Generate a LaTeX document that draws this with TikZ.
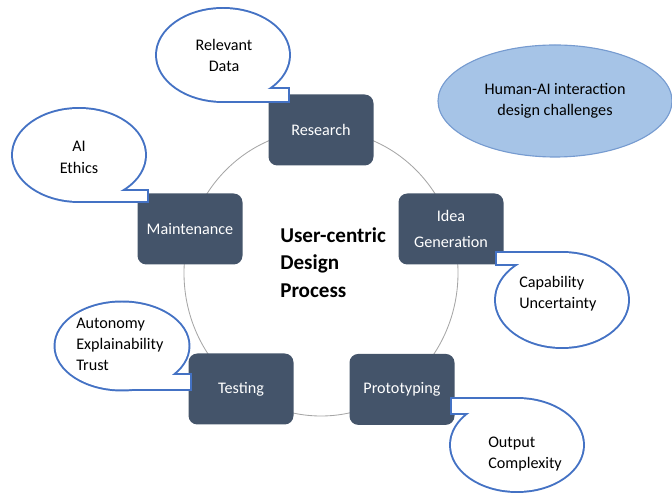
\documentclass[tikz,border=0pt]{standalone}
\usepackage{fontspec}
\setmainfont{Carlito}
\usepackage{tikz}
\usetikzlibrary{shapes.geometric}
\definecolor{stagegris}{RGB}{68,84,106}
\definecolor{bullebleu}{RGB}{68,114,196}
\definecolor{cielbleu}{RGB}{166,196,231}
\definecolor{cielbord}{RGB}{118,155,208}
\definecolor{anneaugris}{RGB}{166,166,166}

\begin{document}
\begin{tikzpicture}[
    stage/.style={rectangle,rounded corners=2.2mm,fill=stagegris,text=white,minimum width=2.625cm,minimum height=1.775cm,align=center,font=\fontsize{11.5}{19}\selectfont},
    bubble/.style={draw=bullebleu,line width=2.8pt},
    bubblefill/.style={fill=white},
    note/.style={inner sep=0pt,font=\fontsize{11.5}{15}\selectfont},
    ring/.style={draw=anneaugris,line width=0.6pt}]
    \useasboundingbox (0,0) rectangle (16.8,12.325);

    \draw[ring] (8.025,5.5) ellipse [x radius=3.425, y radius=3.575];

    \node[stage] (research) at (8.025,9.075) {Research};
    \node[stage] (idea) at (11.275,6.6) {Idea\\Generation};
    \node[stage] (proto) at (10.05,2.59) {Prototyping};
    \node[stage] (testing) at (6.025,2.6) {Testing};
    \node[stage] (maint) at (4.75,6.6) {Maintenance};

    \path[bubble] (5.575,10.95) ellipse [x radius=1.65, y radius=1.15];
    \path[bubble] (5.575,10.1) rectangle (7.2,9.8);
    \path[bubblefill] (5.575,10.95) ellipse [x radius=1.65, y radius=1.15];
    \path[bubblefill] (5.575,10.1) rectangle (7.2,9.8);

    \path[bubble] (1.975,8.45) ellipse [x radius=1.65, y radius=1.15];
    \path[bubble] (1.975,7.55) rectangle (3.675,7.3);
    \path[bubblefill] (1.975,8.45) ellipse [x radius=1.65, y radius=1.15];
    \path[bubblefill] (1.975,7.55) rectangle (3.675,7.3);

    \path[bubble] (14.05,4.825) ellipse [x radius=1.65, y radius=1.175];
    \path[bubble] (12.425,6.0) rectangle (14.05,5.725);
    \path[bubblefill] (14.05,4.825) ellipse [x radius=1.65, y radius=1.175];
    \path[bubblefill] (12.425,6.0) rectangle (14.05,5.725);

    \path[bubble] (3.05,3.675) ellipse [x radius=1.6625, y radius=1.0875];
    \path[bubble] (3.05,2.95) rectangle (4.75,2.5875);
    \path[bubblefill] (3.05,3.675) ellipse [x radius=1.6625, y radius=1.0875];
    \path[bubblefill] (3.05,2.95) rectangle (4.75,2.5875);

    \path[bubble] (12.925,1.2) ellipse [x radius=1.65, y radius=1.15];
    \path[bubble] (11.3,2.35) rectangle (12.925,2.0);
    \path[bubblefill] (12.925,1.2) ellipse [x radius=1.65, y radius=1.15];
    \path[bubblefill] (11.3,2.35) rectangle (12.925,2.0);

    \node[note,align=center] (data) at (5.6,10.94) {Relevant\\Data};
    \node[note,align=center] (ethics) at (1.975,8.39) {AI\\Ethics};
    \node[note,align=left,anchor=west] (capab) at (12.975,4.99) {Capability\\Uncertainty};
    \node[note,align=left,anchor=west] (autonomy) at (1.9,3.725) {Autonomy\\Explainability\\Trust};
    \node[note,align=left,anchor=west] (output) at (12.2,0.9625) {Output\\Complexity};

    \node[inner sep=0pt,align=left,anchor=west,font=\fontsize{15}{19.5}\selectfont\bfseries] (title) at (7.0,5.7625) {User-centric\\Design\\Process};

    \node[ellipse,fill=cielbleu,draw=cielbord,line width=0.8pt,minimum width=5.85cm,minimum height=2.8cm,align=center,font=\fontsize{11.5}{15}\selectfont] (hai) at (13.875,9.8) {Human-AI interaction\\design challenges};
\end{tikzpicture}
\end{document}
